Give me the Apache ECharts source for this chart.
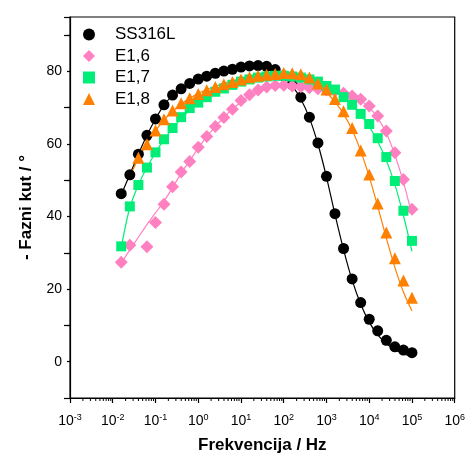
<!DOCTYPE html>
<html>
<head>
<meta charset="utf-8">
<script src="https://cdn.jsdelivr.net/npm/echarts@6/dist/echarts.min.js"></script>
<style>html,body{margin:0;padding:0;background:#fff}#c{width:468px;height:459px}</style>
</head>
<body>
<div id="c"></div>
<script>
const freqs = [0.0158, 0.0251, 0.0398, 0.0631, 0.1, 0.158, 0.251, 0.398, 0.631, 1, 1.58, 2.51, 3.98, 6.31, 10, 15.8, 25.1, 39.8, 63.1, 100, 158, 251, 398, 631, 1000, 1580, 2510, 3980, 6310, 10000, 15800, 25100, 39800, 63100, 100000];
const seriesNames = ['SS316L', 'E1,6', 'E1,7', 'E1,8'];
const ss316l = [46.3, 51.5, 57.2, 62.4, 66.9, 70.8, 73.5, 75.2, 76.7, 77.9, 78.7, 79.5, 80.1, 80.6, 81.2, 81.5, 81.6, 81.4, 80.5, 78.8, 76.4, 72.9, 67.4, 60.3, 51.1, 40.8, 31.2, 22.8, 16.3, 11.7, 8.5, 5.9, 4.1, 3.2, 2.5];
const e16 = [27.4, 32.1, null, 31.7, 38.4, 43.4, 48.2, 52.3, 55.2, 59.1, 62.1, 64.8, 67.3, 69.6, 72.0, 73.6, 74.9, 75.7, 76.1, 76.2, 76.0, 75.8, 75.5, 75.2, 74.9, 74.6, 74.0, 73.2, 72.3, 70.5, 67.7, 63.6, 57.6, 50.2, 42.0];
const e17 = [31.8, 42.8, 48.7, 53.5, 57.7, 61.3, 64.4, 67.4, 69.9, 71.4, 72.9, 74.4, 75.3, 76.3, 77.2, 77.8, 78.3, 78.6, 78.8, 78.8, 78.6, 78.3, 77.8, 77.2, 76.0, 75.0, 72.9, 70.8, 68.3, 65.5, 61.6, 56.4, 49.8, 41.6, 33.3];
const e18 = [null, null, 56.2, 59.9, 63.7, 66.8, 69.2, 71.2, 72.6, 73.8, 74.8, 75.7, 76.5, 77.1, 77.8, 78.4, 78.8, 79.1, 79.3, 79.6, 79.5, 79.2, 78.3, 76.7, 75.0, 72.4, 69.0, 64.4, 58.2, 51.6, 43.6, 35.6, 28.5, 22.4, 17.6];
const fitSS316L = [46.0, 51.6, 57.2, 62.4, 66.9, 70.7, 73.4, 75.3, 76.8, 78.0, 78.9, 79.6, 80.2, 80.7, 81.1, 81.3, 81.3, 81.0, 80.1, 78.5, 76.0, 72.4, 67.2, 60.0, 50.9, 40.6, 30.9, 22.5, 15.9, 10.9, 7.4, 5.0, 3.3, 2.2, 1.4];
const fitE16 = [27.2, 30.8, 34.3, 37.8, 41.0, 44.2, 48.0, 51.9, 55.4, 58.8, 62.0, 64.8, 67.3, 69.6, 71.6, 73.3, 74.6, 75.5, 76.0, 76.2, 76.1, 75.9, 75.6, 75.3, 75.0, 74.6, 74.0, 73.2, 72.0, 70.1, 67.2, 63.0, 57.0, 49.5, 40.5];
const fitE17 = [31.5, 42.5, 48.7, 53.5, 57.6, 61.2, 64.3, 67.0, 69.3, 71.2, 72.8, 74.2, 75.4, 76.3, 77.0, 77.5, 77.9, 78.1, 78.2, 78.2, 78.1, 77.9, 77.5, 76.9, 76.0, 74.7, 72.9, 70.7, 68.0, 64.8, 60.7, 55.5, 48.8, 40.3, 30.4];
const fitE18 = [null, 51.0, 56.0, 60.0, 63.6, 66.6, 69.0, 71.0, 72.6, 73.9, 75.0, 75.9, 76.7, 77.4, 78.0, 78.5, 78.9, 79.1, 79.2, 79.2, 79.0, 78.5, 77.6, 76.2, 74.2, 71.6, 68.3, 63.9, 58.1, 51.0, 42.8, 34.1, 26.0, 19.2, 14.0];
const yTickLabels = [0, 20, 40, 60, 80];
const xMinorDecades = [0.001, 0.01, 0.1, 1, 10, 100, 1000, 10000, 100000];
const xMinorMultipliers = [2, 3, 4, 5, 6, 7, 8, 9];

const colors = ['#000000', '#ff80c0', '#00ee77', '#ff8000'];
const symbols = ['circle', 'diamond', 'rect', 'triangle'];
const symSizes = [11, 13, 10, 12];
const pointData = [ss316l, e16, e17, e18];
const fitData = [fitSS316L, fitE16, fitE17, fitE18];

const pair = (arr) => freqs.map((f, i) => [f, arr[i]]).filter(p => p[1] != null);

const minorTickVals = [];
xMinorDecades.forEach(d => xMinorMultipliers.forEach(m => minorTickVals.push([d * m, -10])));

const series = [];
for (let k = 0; k < 4; k++) {
  series.push({
    name: seriesNames[k] + '_fit', type: 'line', data: pair(fitData[k]),
    smooth: 0.3, showSymbol: false, symbol: 'none',
    lineStyle: { color: colors[k], width: 1.2 }, z: 2, silent: true
  });
}
for (let k = 0; k < 4; k++) {
  series.push({
    name: seriesNames[k], type: 'scatter', data: pair(pointData[k]),
    symbol: symbols[k], symbolSize: symSizes[k],
    itemStyle: { color: colors[k], opacity: 1 }, z: 3 + k
  });
}
series.push({
  name: 'minorTicks', type: 'custom', data: minorTickVals, silent: true, clip: false, z: 10,
  renderItem: (params, api) => {
    const p = api.coord([api.value(0), api.value(1)]);
    return { type: 'line', shape: { x1: p[0], y1: p[1], x2: p[0], y2: p[1] + 3 }, style: { stroke: '#000', lineWidth: 1 } };
  }
});

const chart = echarts.init(document.getElementById('c'), null, { renderer: 'canvas' });
chart.setOption({
  animation: false,
  grid: { left: 70, right: 12, top: 17, bottom: 56, show: true, borderColor: '#000', borderWidth: 1.2, backgroundColor: 'transparent' },
  legend: {
    data: seriesNames.map((n, k) => ({ name: n, icon: symbols[k] })),
    orient: 'vertical', left: 78, top: 21, itemWidth: 12, itemHeight: 12, itemGap: 4.5,
    textStyle: { fontFamily: 'Liberation Sans, Arial', fontSize: 17, color: '#000', padding: [0, 0, 0, 15] }
  },
  xAxis: {
    type: 'log', logBase: 10, min: 0.001, max: 1e6, interval: 1,
    name: 'Frekvencija / Hz', nameLocation: 'middle', nameGap: 39,
    nameTextStyle: { fontFamily: 'Liberation Sans, Arial', fontSize: 17, fontWeight: 'bold', color: '#000' },
    axisLine: { onZero: false, lineStyle: { color: '#000', width: 1.2 } },
    axisTick: { show: true, inside: false, length: 5, lineStyle: { color: '#000', width: 1.2 } },
    minorTick: { show: false },
    splitLine: { show: false },
    axisLabel: {
      color: '#000', margin: 15,
      formatter: (v) => '{b|10}{s|' + Math.round(Math.log10(v)) + '}',
      rich: {
        b: { fontFamily: 'Liberation Sans, Arial', fontSize: 14, color: '#000' },
        s: { fontFamily: 'Liberation Sans, Arial', fontSize: 9, color: '#000', verticalAlign: 'top', padding: [0, 0, 8, 0] }
      }
    }
  },
  yAxis: [{
    type: 'value', min: -10, max: 95, interval: 10,
    name: '- Fazni kut / °', nameLocation: 'middle', nameGap: 35,
    nameTextStyle: { fontFamily: 'Liberation Sans, Arial', fontSize: 17, fontWeight: 'bold', color: '#000' },
    axisLine: { show: true, onZero: false, lineStyle: { color: '#000', width: 1.2 } },
    axisTick: { show: true, inside: false, length: 3, lineStyle: { color: '#000', width: 1.2 } },
    splitLine: { show: false },
    axisLabel: {
      color: '#000', fontFamily: 'Liberation Sans, Arial', fontSize: 14, margin: 8,
      showMinLabel: false, showMaxLabel: false,
      formatter: (v) => (yTickLabels.indexOf(v) >= 0 ? String(v) : '')
    }
  }, {
    type: 'value', min: -10, max: 95, interval: 20, position: 'left', offset: 0,
    axisLine: { show: false, onZero: false },
    axisTick: { show: true, inside: false, length: 6, lineStyle: { color: '#000', width: 1.2 } },
    axisLabel: { show: false },
    splitLine: { show: false }
  }],
  series: series
});
</script>
</body>
</html>
